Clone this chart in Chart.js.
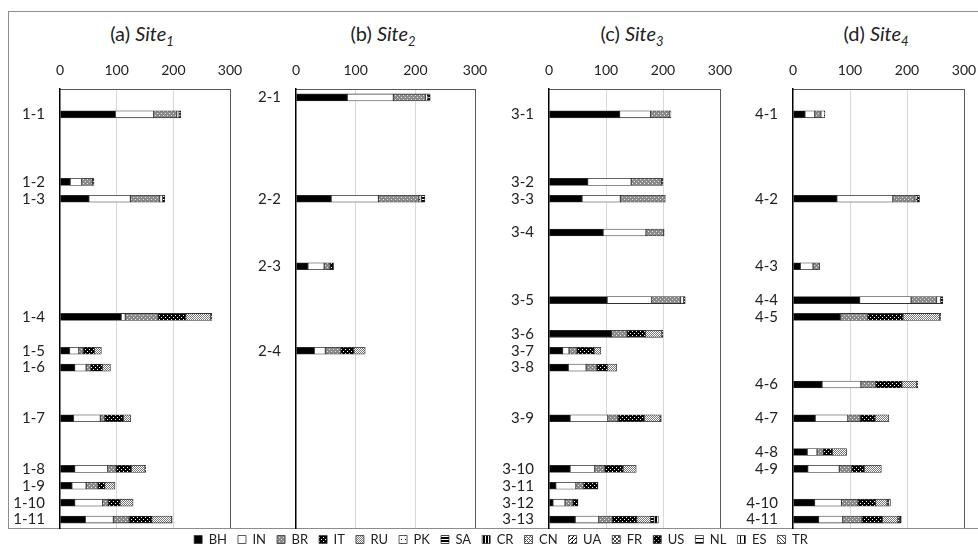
<!DOCTYPE html>
<html>
<head>
<meta charset="utf-8">
<script src="https://cdn.jsdelivr.net/npm/chart.js@4.4.1/dist/chart.umd.min.js"></script>
<style>
    body { margin: 0; background: #fff; width: 978px; height: 549px; position: relative; overflow: hidden; font-family: Lato, 'Open Sans', sans-serif; color: #222; }
    .frame { position: absolute; left: 8px; top: 11px; width: 990px; height: 518px; border: 1px solid #8c8c8c; box-sizing: border-box; }
    .title { position: absolute; top: 21px; font-size: 20px; line-height: 24px; transform: translateX(-50%); white-space: nowrap; }
    .title sub { font-size: 13px; line-height: 0; }
    canvas { position: absolute; }
</style>
</head>
<body>
<div class="frame"></div>
<div class="title" style="left:142px">(a) <i>Site</i><sub><i>1</i></sub></div>
<div class="title" style="left:383px">(b) <i>Site</i><sub><i>2</i></sub></div>
<div class="title" style="left:632px">(c) <i>Site</i><sub><i>3</i></sub></div>
<div class="title" style="left:876px">(d) <i>Site</i><sub><i>4</i></sub></div>
<canvas id="site1" width="250" height="508" style="left:10px;top:50px"></canvas>
<canvas id="site2" width="259" height="508" style="left:246px;top:50px"></canvas>
<canvas id="site3" width="251" height="508" style="left:499px;top:50px"></canvas>
<canvas id="site4" width="251" height="508" style="left:743px;top:50px"></canvas>
<canvas id="legend" width="978" height="90" style="left:12px;top:522px"></canvas>
<script>
// Series (stack order = legend order)
const seriesNames = ['BH', 'IN', 'BR', 'IT', 'RU', 'PK', 'SA', 'CR', 'CN', 'UA', 'FR', 'US', 'NL', 'ES', 'TR'];

// Site 1
const site1Labels = ['1-1', '1-2', '1-3', '1-4', '1-5', '1-6', '1-7', '1-8', '1-9', '1-10', '1-11'];
const site1Pos = [0, 4, 5, 12, 14, 15, 18, 21, 22, 23, 24];
const site1BH = [98, 18, 51, 108, 17, 26, 24, 26, 21, 26, 45];
const site1IN = [67, 20, 73, 7, 16, 20, 47, 58, 25, 49, 49];
const site1BR = [41, 19, 52, 58, 8, 8, 8, 15, 21, 10, 28];
const site1IT = [0, 0, 0, 49, 20, 21, 33, 27, 12, 21, 40];
const site1RU = [0, 0, 0, 44, 12, 14, 13, 24, 18, 23, 35];
const site1PK = [4, 0, 5, 0, 0, 0, 0, 0, 0, 0, 0];
const site1SA = [3, 3, 4, 2, 0, 0, 0, 1, 0, 0, 1];

// Site 2
const site2Labels = ['2-1', '2-2', '2-3', '2-4'];
const site2Pos = [-1, 5, 9, 14];
const site2BH = [86, 59, 20, 31];
const site2IN = [77, 79, 27, 18];
const site2BR = [54, 68, 10, 26];
const site2IT = [0, 0, 6, 22];
const site2RU = [0, 0, 0, 19];
const site2PK = [4, 4, 0, 0];
const site2SA = [4, 6, 0, 0];

// Site 3
const site3Labels = ['3-1', '3-2', '3-3', '3-4', '3-5', '3-6', '3-7', '3-8', '3-9', '3-10', '3-11', '3-12', '3-13'];
const site3Pos = [0, 4, 5, 7, 11, 13, 14, 15, 18, 21, 22, 23, 24];
const site3BH = [124, 68, 58, 95, 102, 110, 24, 34, 37, 37, 12, 7, 46];
const site3IN = [54, 76, 67, 75, 78, 0, 11, 31, 66, 43, 35, 21, 41];
const site3BR = [33, 53, 79, 31, 51, 27, 14, 19, 18, 18, 14, 14, 24];
const site3IT = [0, 0, 0, 0, 0, 32, 30, 18, 46, 32, 25, 9, 43];
const site3RU = [0, 0, 0, 0, 0, 29, 12, 17, 28, 23, 0, 0, 24];
const site3PK = [3, 0, 0, 0, 5, 0, 0, 0, 0, 0, 0, 0, 0];
const site3SA = [0, 3, 0, 1, 3, 2, 0, 0, 2, 0, 0, 0, 6];
const site3CR = [0, 0, 0, 0, 0, 0, 0, 0, 0, 0, 0, 0, 8];

// Site 4
const site4Labels = ['4-1', '4-2', '4-3', '4-4', '4-5', '4-6', '4-7', '4-8', '4-9', '4-10', '4-11'];
const site4Pos = [0, 5, 9, 11, 12, 16, 18, 20, 21, 23, 24];
const site4BH = [21, 77, 13, 117, 83, 51, 39, 25, 26, 38, 45];
const site4IN = [17, 98, 22, 90, 0, 68, 57, 17, 55, 47, 42];
const site4BR = [11, 39, 12, 45, 48, 26, 22, 11, 22, 29, 34];
const site4IT = [0, 0, 0, 0, 62, 46, 26, 16, 22, 31, 36];
const site4RU = [0, 0, 0, 0, 64, 26, 24, 25, 30, 20, 27];
const site4PK = [7, 4, 0, 7, 0, 0, 0, 0, 0, 0, 0];
const site4SA = [0, 4, 0, 4, 2, 2, 0, 0, 0, 3, 3];
const site4CR = [0, 0, 0, 0, 0, 0, 0, 0, 0, 3, 3];

const xTicks = [0, 100, 200, 300];

// ─── Fill patterns ──────────────────────────────
function pattern(size, bg, fg, draw) {
    const c = document.createElement('canvas');
    c.width = c.height = size;
    const g = c.getContext('2d');
    g.fillStyle = bg;
    g.fillRect(0, 0, size, size);
    g.fillStyle = fg;
    draw(g);
    return g.createPattern(c, 'repeat');
}
const px = (g, pts) => pts.forEach(p => g.fillRect(p[0], p[1], 1, 1));

const fills = {
    BH: '#000',
    IN: '#fff',
    BR: pattern(4, '#8a8a8a', '#e6e6e6', g => px(g, [[1, 1], [3, 3]])),
    IT: pattern(4, '#000', '#fff', g => px(g, [[1, 1], [3, 3]])),
    RU: pattern(2, '#fff', '#7a7a7a', g => px(g, [[0, 0], [1, 1]])),
    PK: pattern(4, '#fff', '#000', g => px(g, [[1, 1]])),
    SA: pattern(3, '#fff', '#000', g => g.fillRect(0, 0, 3, 2)),
    CR: pattern(3, '#fff', '#000', g => g.fillRect(0, 0, 2, 3)),
    CN: pattern(4, '#fff', '#555', g => px(g, [[0, 0], [1, 1], [2, 2], [3, 3], [3, 1], [1, 3]])),
    UA: pattern(4, '#fff', '#000', g => px(g, [[3, 0], [2, 1], [1, 2], [0, 3], [0, 0]])),
    FR: pattern(4, '#fff', '#444', g => { g.fillRect(0, 0, 2, 2); g.fillRect(2, 2, 2, 2); }),
    US: pattern(4, '#000', '#bbb', g => px(g, [[0, 0], [2, 2]])),
    NL: pattern(4, '#fff', '#000', g => g.fillRect(0, 0, 4, 1)),
    ES: pattern(4, '#fff', '#000', g => g.fillRect(0, 0, 1, 4)),
    TR: pattern(4, '#fff', '#444', g => px(g, [[0, 0], [1, 1], [2, 2], [3, 3]]))
};

Chart.defaults.font.family = "Lato, 'Open Sans', sans-serif";
Chart.defaults.color = '#222';

function makePanel(id, labels, pos, series) {
    const datasets = seriesNames.map(name => ({
        label: name,
        data: (series[name] || []).map((v, i) => ({ x: v || null, y: pos[i] })),
        backgroundColor: fills[name],
        borderColor: '#333',
        borderWidth: 0.8,
        borderSkipped: false,
        barThickness: 7
    }));

    return new Chart(document.getElementById(id), {
        type: 'bar',
        data: { datasets },
        options: {
            indexAxis: 'y',
            responsive: false,
            animation: false,
            // room on the right/bottom so label padding does not shrink the plot
            layout: { padding: { right: 30, bottom: 30, top: 0, left: 0 } },
            plugins: { legend: { display: false }, tooltip: { enabled: false } },
            scales: {
                x: {
                    type: 'linear',
                    position: 'top',
                    stacked: true,
                    min: 0,
                    max: 300,
                    afterBuildTicks: s => { s.ticks = xTicks.map(v => ({ value: v })); },
                    afterFit: s => { s.height = 39; },
                    ticks: { font: { size: 14 }, color: '#222', padding: 10 },
                    grid: {
                        drawTicks: false,
                        color: c => c.tick && c.tick.value === 300 ? '#595959' : (c.tick && c.tick.value === 0 ? 'rgba(0,0,0,0)' : '#d9d9d9')
                    },
                    border: { color: '#595959', width: 1 }
                },
                y: {
                    type: 'linear',
                    stacked: true,
                    reverse: true,
                    offset: false,
                    min: -1.5,
                    max: 24.5,
                    afterBuildTicks: s => { s.ticks = pos.map(v => ({ value: v })); },
                    afterFit: s => { s.width = 50; },
                    ticks: {
                        autoSkip: false,
                        font: { size: 15 },
                        color: '#222',
                        padding: 15,
                        callback: (v, i) => labels[i]
                    },
                    grid: { display: false, drawTicks: false, offset: false },
                    border: { color: '#000', width: 1.5 }
                }
            }
        }
    });
}

makePanel('site1', site1Labels, site1Pos, { BH: site1BH, IN: site1IN, BR: site1BR, IT: site1IT, RU: site1RU, PK: site1PK, SA: site1SA });
makePanel('site2', site2Labels, site2Pos, { BH: site2BH, IN: site2IN, BR: site2BR, IT: site2IT, RU: site2RU, PK: site2PK, SA: site2SA });
makePanel('site3', site3Labels, site3Pos, { BH: site3BH, IN: site3IN, BR: site3BR, IT: site3IT, RU: site3RU, PK: site3PK, SA: site3SA, CR: site3CR });
makePanel('site4', site4Labels, site4Pos, { BH: site4BH, IN: site4IN, BR: site4BR, IT: site4IT, RU: site4RU, PK: site4PK, SA: site4SA, CR: site4CR });

// Shared legend along the bottom (canvas taller than needed so the legend box is not clipped)
new Chart(document.getElementById('legend'), {
    type: 'bar',
    data: {
        labels: [],
        datasets: seriesNames.map(name => ({
            label: name, data: [], backgroundColor: fills[name], borderColor: '#333', borderWidth: 0.8
        }))
    },
    options: {
        responsive: false,
        animation: false,
        layout: { padding: 0 },
        scales: { x: { display: false }, y: { display: false } },
        plugins: {
            tooltip: { enabled: false },
            legend: {
                position: 'top',
                labels: { boxWidth: 8, boxHeight: 8, padding: 11, font: { size: 13 }, color: '#222' }
            }
        }
    }
});
</script>
</body>
</html>
